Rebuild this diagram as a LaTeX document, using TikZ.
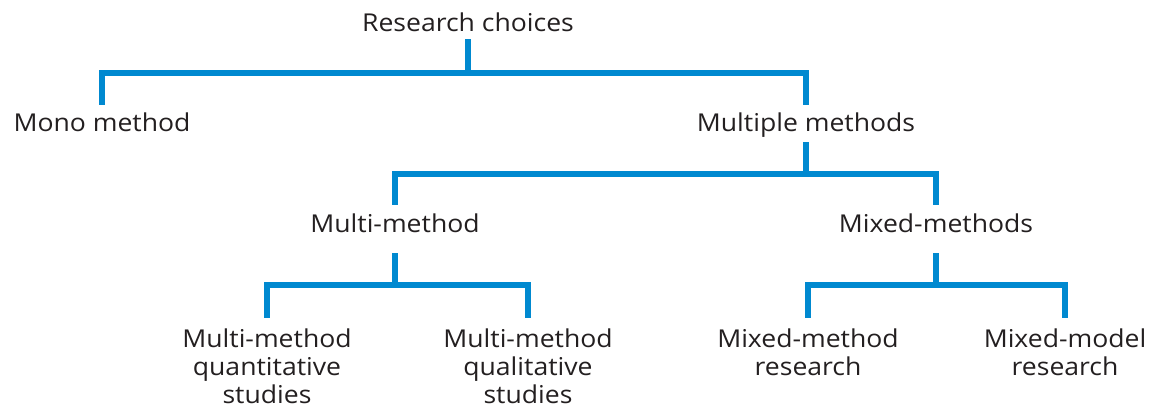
\documentclass[tikz,border=0pt]{standalone}
\usepackage{fontspec}
\setmainfont{Open Sans}[FakeStretch=1.08]
\definecolor{barblue}{RGB}{0,137,208}
\definecolor{inkgrey}{RGB}{35,31,32}

\begin{document}
\begin{tikzpicture}[x=0.5pt,y=-0.5pt,
    lbl/.style={inner sep=0pt,align=center,text=inkgrey,
      font=\fontsize{12.3}{14}\selectfont},
    head/.style={lbl,text height=8.7pt,text depth=0pt,anchor=base},
    leaf/.style={lbl,anchor=north},
    branch/.style={draw=barblue,line width=3pt,line join=miter}]
  \useasboundingbox (0,0) rectangle (1160,405);
  % labels
  \node[head] (rc) at (468,32) {Research choices};
  \node[head] (mono) at (102,132) {Mono method};
  \node[head] (mult) at (806,132) {Multiple methods};
  \node[head] (multi) at (395,233) {Multi-method};
  \node[head] (mixed) at (936,233) {Mixed-methods};
  \node[leaf] (quant) at (267,328) {Multi-method\\quantitative\\studies};
  \node[leaf] (qual) at (528,328) {Multi-method\\qualitative\\studies};
  \node[leaf] (mmr) at (808,328) {Mixed-method\\research};
  \node[leaf] (mdr) at (1065,328) {Mixed-model\\research};
  % branches
  \draw[branch] ([yshift=-3.5pt]rc.south) -- ++(0,33.5) -| ([yshift=4.5pt]mono.north);
  \draw[branch] ([yshift=-3.5pt]rc.south) -- ++(0,33.5) -| ([yshift=4.5pt]mult.north);
  \draw[branch] ([yshift=-5pt]mult.south) -- ++(0,32) -| ([yshift=5pt]multi.north);
  \draw[branch] ([yshift=-5pt]mult.south) -- ++(0,32) -| ([yshift=5pt]mixed.north);
  \draw[branch] ([yshift=-10pt]multi.south) -- ++(0,31.5) -| ([yshift=5pt]quant.north);
  \draw[branch] ([yshift=-10pt]multi.south) -- ++(0,31.5) -| ([yshift=5pt]qual.north);
  \draw[branch] ([yshift=-10pt]mixed.south) -- ++(0,31.5) -| ([yshift=5pt]mmr.north);
  \draw[branch] ([yshift=-10pt]mixed.south) -- ++(0,31.5) -| ([yshift=5pt]mdr.north);
\end{tikzpicture}
\end{document}
